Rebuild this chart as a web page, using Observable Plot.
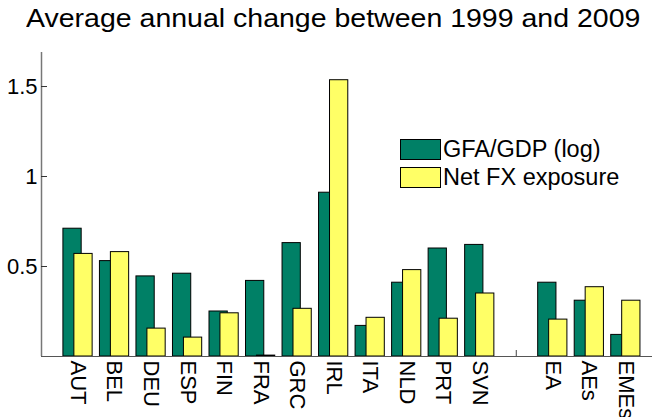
<!DOCTYPE html>
<html>
<head>
<meta charset="utf-8">
<script src="https://cdn.jsdelivr.net/npm/d3@7"></script>
<script src="https://cdn.jsdelivr.net/npm/@observablehq/plot@0.6"></script>
<style>
  html, body { margin: 0; padding: 0; background: #fff; }
  #wrap { position: relative; width: 652px; height: 417px; overflow: hidden; font-family: "Liberation Sans", Arial, sans-serif; }
  #title { position: absolute; left: 26px; top: 5px; font-size: 25px; line-height: 27px; white-space: nowrap; color: #000; transform: scaleX(1.14); transform-origin: left top; }
  #legend { position: absolute; left: 400px; top: 135px; font-size: 23.5px; color: #000; }
  .item { display: flex; align-items: center; height: 28px; }
  .sw { width: 41px; height: 21px; border: 1px solid #000; margin-right: 2px; box-sizing: border-box; }
  svg text { font-family: "Liberation Sans", Arial, sans-serif; }
</style>
</head>
<body>
<div id="wrap">
  <div id="title">Average annual change between 1999 and 2009</div>
  <div id="legend"></div>
</div>
<script>
// Data
const categories = ["AUT","BEL","DEU","ESP","FIN","FRA","GRC","IRL","ITA","NLD","PRT","SVN","","EA","AEs","EMEs"];
const gfaGdp = [0.71,0.53,0.445,0.46,0.25,0.42,0.63,0.91,0.17,0.41,0.60,0.62,null,0.41,0.31,0.12];
const netFx  = [0.57,0.58,0.155,0.105,0.24,0.005,0.265,1.535,0.215,0.48,0.21,0.35,null,0.205,0.385,0.31];
const seriesNames = ["GFA/GDP (log)","Net FX exposure"];
const seriesColors = ["#008066","#ffff66"];
const yTicks = [0.5, 1, 1.5];

const idx = d3.range(categories.length);
const green = idx.filter(i => gfaGdp[i] != null).map(i => ({i, v: gfaGdp[i]}));
const yellow = idx.filter(i => netFx[i] != null).map(i => ({i, v: netFx[i]}));
const xDomain = [-1, 15.73];

const chart = Plot.plot({
  width: 652,
  height: 417,
  marginTop: 52,
  marginBottom: 61,
  marginLeft: 41,
  marginRight: 0,
  x: {type: "linear", domain: xDomain},
  y: {domain: [0, 1.689]},
  style: {fontSize: "22px", fontFamily: "Liberation Sans, Arial, sans-serif", color: "#000", background: "white"},
  marks: [
    // inward x ticks (hidden behind bars)
    Plot.axisX({ticks: idx, tickSize: 6, dy: -6, tickFormat: () => "", stroke: "#444"}),
    Plot.rectY(green, {x1: d => d.i - 0.4, x2: d => d.i + 0.1, y1: 0, y2: "v", fill: seriesColors[0], stroke: "#000", strokeWidth: 1}),
    Plot.rectY(yellow, {x1: d => d.i - 0.1, x2: d => d.i + 0.4, y1: 0, y2: "v", fill: seriesColors[1], stroke: "#000", strokeWidth: 1}),
    Plot.ruleY([0], {stroke: "#555", strokeWidth: 1.2}),
    Plot.ruleX([xDomain[0]], {stroke: "#777", strokeWidth: 1.5}),
    Plot.axisY({ticks: yTicks, tickSize: 6, dx: 6, tickFormat: () => "", stroke: "#333", label: null}),
    Plot.axisY({ticks: yTicks, tickSize: 0, tickPadding: 4, tickFormat: d => String(d), label: null, fill: "#000"}),
    Plot.axisX({ticks: idx, tickSize: 0, tickPadding: 4, tickRotate: 90, tickFormat: i => categories[i], label: null, fill: "#000"})
  ]
});
chart.style.position = "absolute";
chart.style.left = "0";
chart.style.top = "0";
document.getElementById("wrap").prepend(chart);

const legend = document.getElementById("legend");
seriesNames.forEach((n, k) => {
  const it = document.createElement("div");
  it.className = "item";
  const sw = document.createElement("div");
  sw.className = "sw";
  sw.style.background = seriesColors[k];
  const t = document.createElement("span");
  t.textContent = n;
  it.appendChild(sw); it.appendChild(t);
  legend.appendChild(it);
});
</script>
</body>
</html>
